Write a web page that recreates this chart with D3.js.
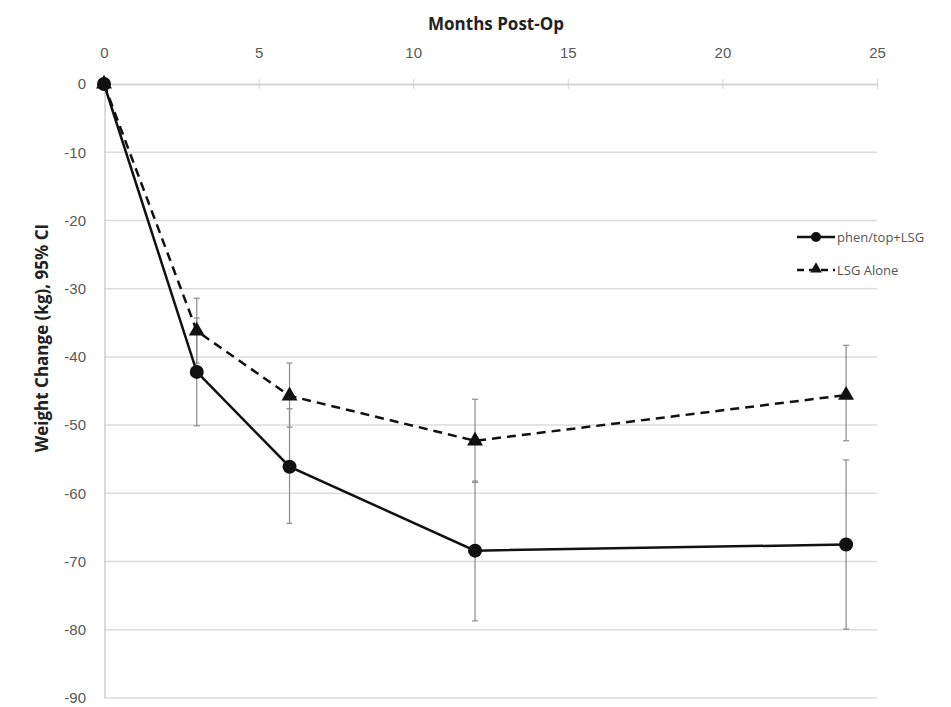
<!DOCTYPE html>
<html>
<head>
<meta charset="utf-8">
<script src="https://cdn.jsdelivr.net/npm/d3@7"></script>
<style>
  body { margin: 0; background: #fff; }
  svg { display: block; font-family: "Open Sans", "Liberation Sans", sans-serif; }
</style>
</head>
<body>
<svg id="chart"></svg>
<script>
// Data
const months = [0, 3, 6, 12, 24];
const phenMean = [0, -42.2, -56.1, -68.4, -67.5];
const phenLow = [0, -50.1, -64.4, -78.7, -79.9];
const phenHigh = [0, -34.3, -47.6, -58.2, -55.1];
const lsgMean = [0, -36.2, -45.7, -52.3, -45.6];
const lsgLow = [0, -40.9, -50.3, -58.4, -52.3];
const lsgHigh = [0, -31.4, -40.9, -46.2, -38.3];
const xTicks = [0, 5, 10, 15, 20, 25];
const yTicks = [0, -10, -20, -30, -40, -50, -60, -70, -80, -90];
const seriesNames = ["phen/top+LSG", "LSG Alone"];

const width = 951;
const height = 707;
const plotLeft = 104, plotRight = 877, plotTop = 84, plotBottom = 698;

const svg = d3.select("#chart")
    .attr("width", width)
    .attr("height", height);

const x = d3.scaleLinear().domain([0, 25]).range([plotLeft, plotRight]);
const y = d3.scaleLinear().domain([0, -90]).range([plotTop, plotBottom]);

// gridlines
svg.append("g")
    .selectAll("line")
    .data(yTicks.filter(d => d !== 0))
    .join("line")
    .attr("x1", plotLeft)
    .attr("x2", plotRight)
    .attr("y1", d => y(d))
    .attr("y2", d => y(d))
    .attr("stroke", "#dcdcdc")
    .attr("stroke-width", 1.5);

// left axis line
svg.append("line")
    .attr("x1", plotLeft + 1).attr("x2", plotLeft + 1)
    .attr("y1", plotTop).attr("y2", plotBottom)
    .attr("stroke", "#cfcfcf")
    .attr("stroke-width", 1.5);

// y tick labels (plain hyphen minus like the original)
const yAxis = d3.axisLeft(y).tickValues(yTicks).tickSize(0).tickPadding(18)
    .tickFormat(d => String(d));
const gy = svg.append("g")
    .attr("transform", `translate(${plotLeft},0)`)
    .call(yAxis);
gy.select(".domain").remove();
gy.selectAll("text")
    .attr("fill", "#595959")
    .style("font-size", "15px");

// x axis along zero line, labels on top
const xAxis = d3.axisTop(x).tickValues(xTicks).tickSize(0).tickPadding(26)
    .tickFormat(d => String(d));
const gx = svg.append("g")
    .attr("transform", `translate(0,${y(0)})`)
    .call(xAxis);
gx.select(".domain").attr("stroke", "#d4d4d4").attr("stroke-width", 2);
gx.selectAll("text")
    .attr("fill", "#595959")
    .style("font-size", "15px");
// small ticks on the zero line
gx.selectAll(".tick").append("line")
    .attr("y1", -5).attr("y2", 5)
    .attr("stroke", "#d4d4d4")
    .attr("stroke-width", 1);

// titles
svg.append("text")
    .attr("x", 496)
    .attr("y", 30)
    .attr("text-anchor", "middle")
    .attr("font-weight", "bold")
    .attr("fill", "#222")
    .style("font-size", "17px")
    .text("Months Post-Op");

svg.append("text")
    .attr("transform", `translate(48,338) rotate(-90)`)
    .attr("text-anchor", "middle")
    .attr("font-weight", "bold")
    .attr("fill", "#222")
    .style("font-size", "17px")
    .text("Weight Change (kg), 95% CI");

const phen = months.map((m, i) => ({ m, v: phenMean[i], lo: phenLow[i], hi: phenHigh[i] }));
const lsg = months.map((m, i) => ({ m, v: lsgMean[i], lo: lsgLow[i], hi: lsgHigh[i] }));

// error bars
const drawErr = (data) => {
    const g = svg.append("g").attr("stroke", "#8c8c8c").attr("stroke-width", 1.2);
    const d = data.filter(p => p.lo !== p.hi);
    g.selectAll(".v").data(d).join("line").attr("class", "v")
        .attr("x1", p => x(p.m)).attr("x2", p => x(p.m))
        .attr("y1", p => y(p.lo)).attr("y2", p => y(p.hi));
    g.selectAll(".lo").data(d).join("line").attr("class", "lo")
        .attr("x1", p => x(p.m) - 3).attr("x2", p => x(p.m) + 3)
        .attr("y1", p => y(p.lo)).attr("y2", p => y(p.lo));
    g.selectAll(".hi").data(d).join("line").attr("class", "hi")
        .attr("x1", p => x(p.m) - 3).attr("x2", p => x(p.m) + 3)
        .attr("y1", p => y(p.hi)).attr("y2", p => y(p.hi));
};
drawErr(lsg);
drawErr(phen);

const line = d3.line().x(p => x(p.m)).y(p => y(p.v));

svg.append("path")
    .datum(lsg)
    .attr("d", line)
    .attr("fill", "none")
    .attr("stroke", "#111")
    .attr("stroke-width", 2.5)
    .attr("stroke-dasharray", "9,6");

svg.append("path")
    .datum(phen)
    .attr("d", line)
    .attr("fill", "none")
    .attr("stroke", "#111")
    .attr("stroke-width", 2.5);

const tri = d3.symbol().type(d3.symbolTriangle).size(110);

svg.append("g")
    .selectAll("path")
    .data(lsg)
    .join("path")
    .attr("d", tri)
    .attr("transform", p => `translate(${x(p.m)},${y(p.v)})`)
    .attr("fill", "#111");

svg.append("g")
    .selectAll("circle")
    .data(phen)
    .join("circle")
    .attr("cx", p => x(p.m))
    .attr("cy", p => y(p.v))
    .attr("r", 7)
    .attr("fill", "#111");

// legend
const lg = svg.append("g").attr("transform", "translate(797,237)");
lg.append("line").attr("x1", 0).attr("x2", 38).attr("y1", 0).attr("y2", 0)
    .attr("stroke", "#111").attr("stroke-width", 2.5);
lg.append("circle").attr("cx", 19).attr("cy", 0).attr("r", 5).attr("fill", "#111");
lg.append("text").attr("x", 40).attr("y", 5)
    .attr("fill", "#555").style("font-size", "13px").text(seriesNames[0]);

lg.append("line").attr("x1", 0).attr("x2", 38).attr("y1", 33).attr("y2", 33)
    .attr("stroke", "#111").attr("stroke-width", 2.5).attr("stroke-dasharray", "7,5");
lg.append("path").attr("d", d3.symbol().type(d3.symbolTriangle).size(60))
    .attr("transform", "translate(19,32)").attr("fill", "#111");
lg.append("text").attr("x", 40).attr("y", 38)
    .attr("fill", "#555").style("font-size", "13px").text(seriesNames[1]);
</script>
</body>
</html>
